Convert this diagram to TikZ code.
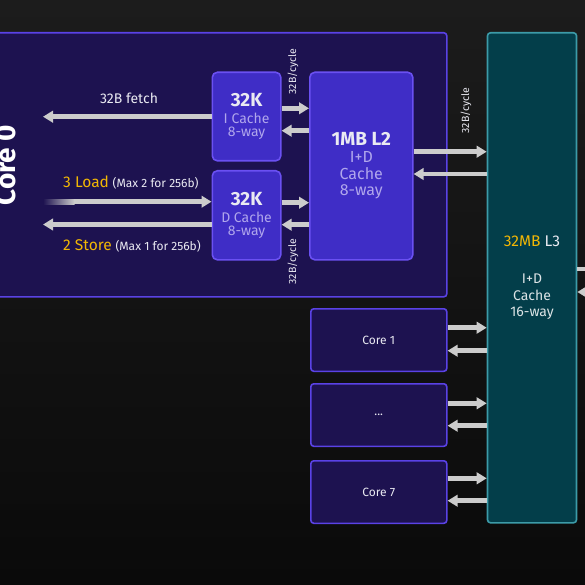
\documentclass[tikz,border=0pt]{standalone}
\usepackage{fontspec}
\setmainfont{Fira Sans}
\usetikzlibrary{arrows.meta}
\definecolor{bgtop}{HTML}{1C1C1C}
\definecolor{bgbot}{HTML}{0A0A0A}
\definecolor{corefill}{HTML}{1D1250}
\definecolor{coreline}{HTML}{5A42E6}
\definecolor{cachefill}{HTML}{3F2DC6}
\definecolor{cacheline}{HTML}{6A50F2}
\definecolor{lthreefill}{HTML}{033E4A}
\definecolor{lthreeline}{HTML}{3C9BA8}
\definecolor{arrowgray}{HTML}{CCCCCC}
\definecolor{amdyellow}{HTML}{F2B705}
\definecolor{lav}{HTML}{B0A6EC}
\definecolor{txtw}{HTML}{EAEAF2}
\definecolor{lthreetxt}{HTML}{DCE4E6}
\tikzset{
  corebox/.style={draw=coreline, line width=1.6pt, fill=corefill, rounded corners=3pt},
  cachebox/.style={draw=cacheline, line width=1.6pt, fill=cachefill, rounded corners=5pt, text=lav, align=center, inner sep=0pt},
  lthreebox/.style={draw=lthreeline, line width=1.6pt, fill=lthreefill, rounded corners=3pt, text=lthreetxt, align=center, inner sep=0pt},
  smallcore/.style={corebox, text=txtw, font=\fontsize{12}{14}\selectfont, inner sep=0pt},
  arr/.style={draw=arrowgray, line width=4.6pt, -{Triangle[length=10pt,width=11.5pt]}},
  cyc/.style={rotate=90, text=txtw, font=\fontsize{10.5}{12}\selectfont},
  lbl/.style={text=txtw, font=\fontsize{14}{16}\selectfont, inner sep=0pt},
}
\begin{document}
\begin{tikzpicture}[x=1pt,y=-1pt]
\shade[top color=bgtop, bottom color=bgbot] (0,0) rectangle (585,585);
\useasboundingbox (0,0) rectangle (585,585);
\clip (0,0) rectangle (585,585);

% Core 0 outer box
\node[corebox, anchor=north west, minimum width=468pt, minimum height=264pt] (core0) at (-22,32) {};
\node[rotate=90, anchor=base, text=white, font=\fontsize{28}{30}\selectfont\bfseries] (core0lbl) at (15,165) {Core 0};

% L3
\node[lthreebox, anchor=north west, minimum width=89pt, minimum height=490pt, font=\fontsize{14}{16.5}\selectfont] (lthree) at (486.7,32)
  {{\fontsize{15.5}{16}\selectfont\color{amdyellow}32MB \color{txtw}L3}\\[20.5pt]
   I+D\\Cache\\16-way};

% I cache, D cache, L2
\node[cachebox, anchor=north west, minimum width=68.5pt, minimum height=88.5pt, font=\fontsize{14}{13}\selectfont] (icache) at (211.5,71.5)
  {{\fontsize{19}{19}\selectfont\bfseries\color{txtw}32K}\\[4.3pt]
   I Cache\\8-way};
\node[cachebox, anchor=north west, minimum width=68.5pt, minimum height=89pt, font=\fontsize{14}{13}\selectfont] (dcache) at (211.5,170)
  {{\fontsize{19}{19}\selectfont\bfseries\color{txtw}32K}\\[4.3pt]
   D Cache\\8-way};
\node[cachebox, anchor=north west, minimum width=103pt, minimum height=187.5pt, font=\fontsize{16}{16.5}\selectfont] (ltwo) at (309,71.5)
  {{\fontsize{19}{19}\selectfont\bfseries\color{txtw}1MB L2}\\[0.5pt]
   I+D\\Cache\\8-way};

% Other cores
\node[smallcore, anchor=north west, minimum width=136pt, minimum height=62.5pt] (core1) at (310,308) {Core 1};
\node[smallcore, anchor=north west, minimum width=136pt, minimum height=62.5pt] (coredots) at (310,383) {...};
\node[smallcore, anchor=north west, minimum width=136pt, minimum height=62.5pt] (core7) at (310,460) {Core 7};

% free ends
\coordinate (fetchend) at (43,116.7);
\coordinate (storeend) at (43,224.5);
\coordinate (loadsrc) at (74,201.7);
\coordinate (outright) at (600,269);
\coordinate (inright) at (600,292);

% arrows core side
\draw[arr] (icache.west |- 0,116.7) -- (fetchend);
\shade[left color=corefill, right color=arrowgray] (43,199.4) rectangle (74.5,204);
\draw[arr] (loadsrc) -- (dcache.west |- 0,201.7);
\draw[arr] (dcache.west |- 0,224.5) -- (storeend);

% L1 <-> L2
\draw[arr] (icache.east |- 0,108.3) -- (ltwo.west |- 0,108.3);
\draw[arr] (ltwo.west |- 0,130.7) -- (icache.east |- 0,130.7);
\draw[arr] (dcache.east |- 0,202.7) -- (ltwo.west |- 0,202.7);
\draw[arr] (ltwo.west |- 0,224.7) -- (dcache.east |- 0,224.7);

% L2 <-> L3
\draw[arr] (ltwo.east |- 0,151.7) -- (lthree.west |- 0,151.7);
\draw[arr] (lthree.west |- 0,174) -- (ltwo.east |- 0,174);

% cores <-> L3
\draw[arr] (core1.east |- 0,327.7) -- (lthree.west |- 0,327.7);
\draw[arr] (lthree.west |- 0,350.7) -- (core1.east |- 0,350.7);
\draw[arr] (coredots.east |- 0,403.3) -- (lthree.west |- 0,403.3);
\draw[arr] (lthree.west |- 0,425.7) -- (coredots.east |- 0,425.7);
\draw[arr] (core7.east |- 0,478.3) -- (lthree.west |- 0,478.3);
\draw[arr] (lthree.west |- 0,500.7) -- (core7.east |- 0,500.7);

% L3 <-> off-picture
\draw[arr, -] (lthree.east |- 0,269) -- (outright);
\draw[arr] (inright) -- (lthree.east |- 0,292);

% labels
\node[lbl, anchor=base] (fetchlbl) at (129,104) {32B fetch};
\node[lbl, anchor=base west] (loadlbl) at (63,188) {{\fontsize{15.5}{16}\selectfont\color{amdyellow}3 Load} {\fontsize{12}{14}\selectfont(Max 2 for 256b)}};
\node[lbl, anchor=base west] (storelbl) at (63,250) {{\fontsize{15.5}{16}\selectfont\color{amdyellow}2 Store} {\fontsize{12}{14}\selectfont(Max 1 for 256b)}};
\node[cyc] (cyc1) at (293,71.5) {32B/cycle};
\node[cyc] (cyc2) at (293,261.5) {32B/cycle};
\node[cyc] (cyc3) at (466,110.5) {32B/cycle};
\end{tikzpicture}
\end{document}
